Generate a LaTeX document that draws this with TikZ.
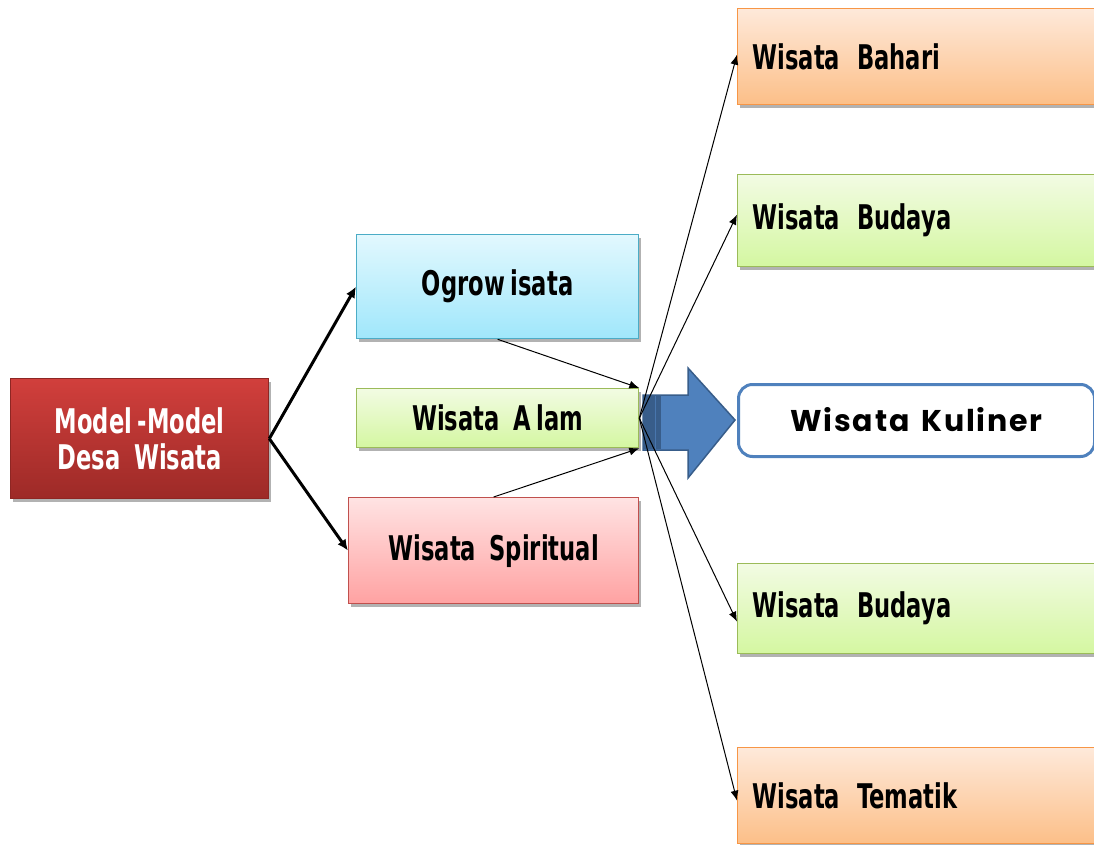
\documentclass[tikz,border=0pt]{standalone}
\usepackage{fontspec}
\usetikzlibrary{arrows.meta,shadows}
\newfontfamily\agency{DejaVu Sans Condensed}[FakeStretch=0.74]
\newfontfamily\kulfont{Poppins}[LetterSpace=6]
\definecolor{redT}{HTML}{D13F3C}\definecolor{redB}{HTML}{9D2A27}\definecolor{redD}{HTML}{8E2623}
\definecolor{bluT}{HTML}{E2F8FE}\definecolor{bluB}{HTML}{A0E7FB}\definecolor{bluD}{HTML}{4BACC6}
\definecolor{grnT}{HTML}{F2FBE3}\definecolor{grnB}{HTML}{D4F7A1}\definecolor{grnD}{HTML}{9BBB59}
\definecolor{pnkT}{HTML}{FFE3E3}\definecolor{pnkB}{HTML}{FFA2A2}\definecolor{pnkD}{HTML}{C0504D}
\definecolor{orgT}{HTML}{FEE9DA}\definecolor{orgB}{HTML}{FCBF88}\definecolor{orgD}{HTML}{F79646}
\definecolor{arrF}{HTML}{4F81BD}\definecolor{arrD}{HTML}{385D8A}
\newcommand{\wsp}{\ \,}
\begin{document}
\begin{tikzpicture}[x=1pt,y=-1pt,
  box/.style={anchor=north west,inner sep=0pt,line width=1.3pt,
    font=\agency\bfseries\fontsize{34}{40}\selectfont,
    drop shadow={shadow xshift=2pt,shadow yshift=-3pt,opacity=0.3,fill=black}},
  redbox/.style={box,draw=redD,top color=redT,bottom color=redB,text=white,align=center},
  blubox/.style={box,draw=bluD,top color=bluT,bottom color=bluB},
  grnbox/.style={box,draw=grnD,top color=grnT,bottom color=grnB},
  pnkbox/.style={box,draw=pnkD,top color=pnkT,bottom color=pnkB},
  orgbox/.style={box,draw=orgD,top color=orgT,bottom color=orgB},
  rightbox/.style={minimum height=#1,text width=333pt,inner xsep=15pt,align=left},
  thick arrow/.style={line width=3pt,-{Latex[length=11pt,width=10pt]}},
  thin arrow/.style={line width=1pt,-{Latex[length=10pt,width=8pt]}},
]
\useasboundingbox (0,0) rectangle (1094,845);
% left column
\node[redbox,minimum width=258pt,minimum height=120pt] (model) at (10,378)
  {Model\,-Model\\[-4pt]Desa\wsp Wisata};
\node[blubox,minimum width=282pt,minimum height=104pt] (ogro) at (356,234) {Ogrow\,isata};
\node[grnbox,minimum width=282pt,minimum height=59pt] (alam) at (356,388) {Wisata\wsp A\,lam};
\node[pnkbox,minimum width=290pt,minimum height=106pt] (spirit) at (348,497) {Wisata\wsp Spiritual};
% right column
\node[orgbox,rightbox=96pt] (bahari) at (737,8) {Wisata\wsp Bahari};
\node[grnbox,rightbox=92pt] (budaya1) at (737,174) {Wisata\wsp Budaya};
\node[grnbox,rightbox=90pt] (budaya2) at (737,563) {Wisata\wsp Budaya};
\node[orgbox,rightbox=96pt] (tematik) at (737,747) {Wisata\wsp Tematik};
\node[anchor=north west,draw=arrF,line width=3pt,fill=white,rounded corners=14pt,
  minimum width=356pt,minimum height=72pt,inner sep=0pt,
  font=\kulfont\bfseries\fontsize{30}{34}\selectfont] (kuliner) at (737,383)
  {\raisebox{3pt}{Wisata\hspace{4pt} Kuliner}};
% block arrow
\coordinate (btip) at (735,420);
\filldraw[fill=arrF,draw=arrD,line width=1.5pt,line join=miter]
  (643,395) -- (688,395) -- (688,368) -- (btip) -- (688,478) -- (688,450) -- (643,450) -- cycle;
\fill[arrD] (644,396) rectangle (661,449);
\draw[arrF!70!arrD,line width=1pt] (655,396) -- (655,449);
% connectors
\draw[thick arrow] (model.east) -- (ogro.west);
\draw[thick arrow] (model.east) -- (spirit.west);
\draw[thin arrow] (ogro.south) -- (alam.north east);
\draw[thin arrow] (spirit.north) -- (alam.south east);
\coordinate (fan) at (alam.east);
\draw[thin arrow] (fan) -- ([yshift=2pt]bahari.west);
\draw[thin arrow] (fan) -- ([yshift=6pt]budaya1.west);
\draw[thin arrow] (fan) -- ([yshift=-13pt]budaya2.west);
\draw[thin arrow] (fan) -- ([yshift=-5pt]tematik.west);
\end{tikzpicture}
\end{document}
